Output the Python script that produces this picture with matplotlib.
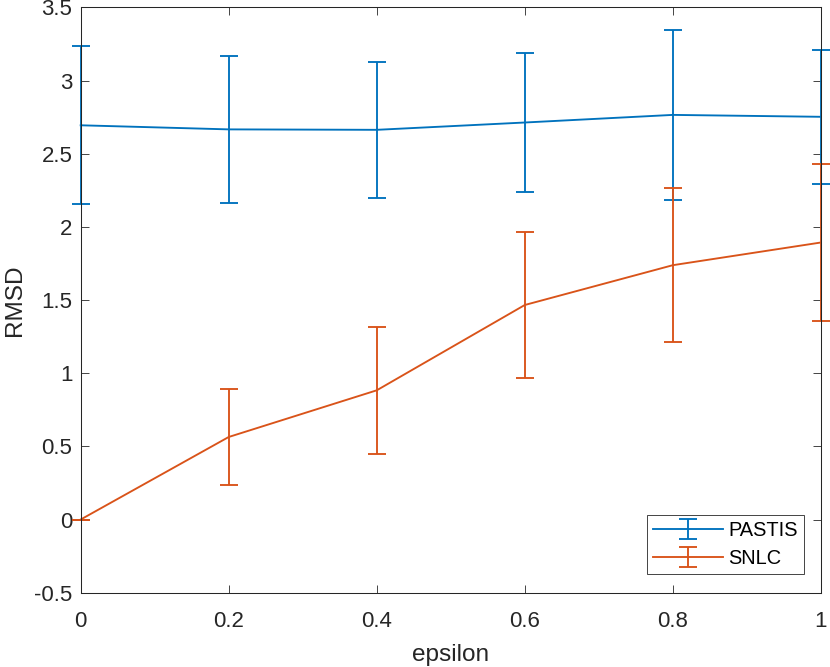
import matplotlib
matplotlib.use("Agg")
import matplotlib.pyplot as plt

epsilon = [0.0, 0.2, 0.4, 0.6, 0.8, 1.0]
pastis_mean = [2.694, 2.666, 2.663, 2.713, 2.765, 2.752]
pastis_err = [0.540, 0.503, 0.466, 0.477, 0.580, 0.459]
snlc_mean = [0.0, 0.564, 0.883, 1.466, 1.738, 1.893]
snlc_err = [0.0, 0.326, 0.435, 0.500, 0.527, 0.536]

xticks = [0, 0.2, 0.4, 0.6, 0.8, 1]
xtick_labels = ["0", "0.2", "0.4", "0.6", "0.8", "1"]
yticks = [-0.5, 0, 0.5, 1, 1.5, 2, 2.5, 3, 3.5]
ytick_labels = ["-0.5", "0", "0.5", "1", "1.5", "2", "2.5", "3", "3.5"]

plt.rcParams['font.family'] = ['Liberation Sans', 'DejaVu Sans']

fig = plt.figure(figsize=(8.3, 6.67), dpi=100)
ax = fig.add_axes([0.0972, 0.1114, 0.8918, 0.8776])

axcol = '#262626'
c1 = '#0072BD'
c2 = '#D95319'

e1 = ax.errorbar(epsilon, pastis_mean, yerr=pastis_err, color=c1, lw=1.35,
                 capsize=6.5, capthick=1.35, elinewidth=1.35, label='PASTIS')
e2 = ax.errorbar(epsilon, snlc_mean, yerr=snlc_err, color=c2, lw=1.35,
                 capsize=6.5, capthick=1.35, elinewidth=1.35, label='SNLC')
for e in (e1, e2):
    for art in e.lines[0:1] + tuple(e.lines[1]) + tuple(e.lines[2]):
        art.set_clip_on(False)

ax.set_xlim(0, 1)
ax.set_ylim(-0.5, 3.5)
ax.set_xticks(xticks)
ax.set_xticklabels(xtick_labels)
ax.set_yticks(yticks)
ax.set_yticklabels(ytick_labels)

ax.tick_params(direction='in', length=5.5, width=0.6, colors=axcol,
               labelsize=16, top=True, right=True)
ax.tick_params(axis='x', pad=13)
ax.tick_params(axis='y', pad=6)
for sp in ax.spines.values():
    sp.set_color(axcol)
    sp.set_linewidth(0.75)

ax.set_xlabel('epsilon', fontsize=17.6, color=axcol, labelpad=8.5)
ax.set_ylabel('RMSD', fontsize=17.6, color=axcol, labelpad=6)

leg = ax.legend(loc='lower right', bbox_to_anchor=(0.977, 0.0314),
                borderaxespad=0, fontsize=14.4, fancybox=False, framealpha=1,
                edgecolor='#262626', handlelength=3.5, handletextpad=0.25,
                borderpad=0.3, labelspacing=0.48)
leg.get_frame().set_linewidth(0.6)

fig.savefig('out.png', dpi=100)
